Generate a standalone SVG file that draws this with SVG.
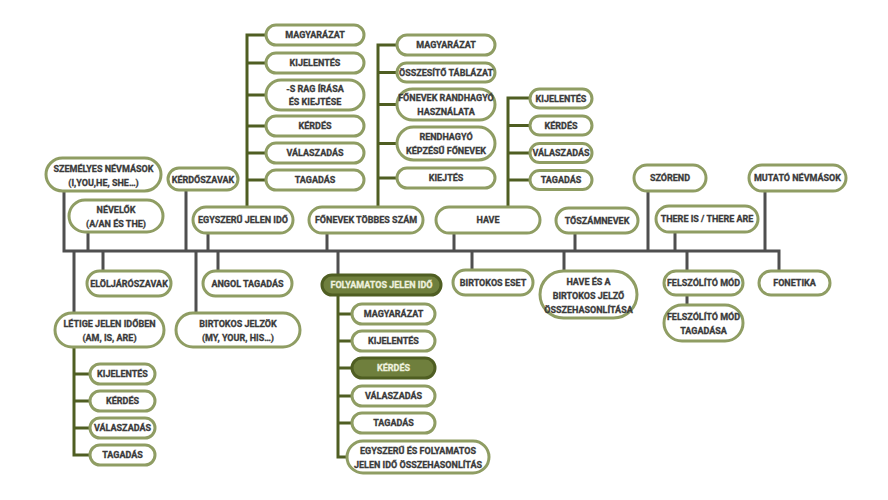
<svg xmlns="http://www.w3.org/2000/svg" width="888" height="500" viewBox="0 0 888 500">
<style>
.n rect{fill:#fff;stroke:#8f9d63;stroke-width:3}
.d rect{fill:#6f7f3d;stroke:#4f5e22;stroke-width:3}
text{font-family:Roboto,"Liberation Sans",sans-serif;font-weight:bold;font-size:9px;fill:#3a3a3a;stroke:#3a3a3a;stroke-width:0.3;text-anchor:middle}
.d text{fill:#eef1de;stroke:#eef1de}
.c path{stroke:#4f4f4f;stroke-width:3;fill:none}
.c .g{stroke:#4f5e22}
</style>
<rect width="888" height="500" fill="#fff"/>
<g class="c">
<path d="M64 191V251H779V271M88 232V251M186 190V251M208 233V251M327 233V251M454 233V251M575 233V251M648 191V251M675 232V251M765 191V251M103 251V271M218 251V271M74 251V313M196 251V313M338 251V275M472 251V270M564 251V271M687 251V271M687 295V305"/>
<path class="g" d="M266 35H247V207M247 63H266M247 95H266M247 126H266M247 153H266M247 180H266"/>
<path class="g" d="M397 45H378V207M378 72.5H397M378 104.5H397M378 143.5H397M378 178H397"/>
<path class="g" d="M530 98H508V207M508 125.5H530M508 153H530M508 180H530"/>
<path class="g" d="M74 347V455H90M74 374H90M74 401H90M74 428H90"/>
<path class="g" d="M338 295V457H347M338 314H352M338 341H352M338 368H352M338 396H352M338 423H352"/>
</g>
<g id="szemelyes" class="n"><rect x="46" y="158" width="115" height="33" rx="16.5"/><text x="103.5" y="171.5">SZEMÉLYES NÉVMÁSOK</text><text x="103.5" y="185.5">(I,YOU,HE, SHE…)</text></g>
<g id="kerdoszavak" class="n"><rect x="168" y="168" width="70" height="22" rx="11"/><text x="203" y="182.5">KÉRDŐSZAVAK</text></g>
<g id="nevelok" class="n"><rect x="69" y="200" width="94" height="32" rx="16"/><text x="116" y="213">NÉVELŐK</text><text x="116" y="226.5">(A/AN ÉS THE)</text></g>
<g id="egyszeru" class="n"><rect x="193" y="207" width="100" height="26" rx="13"/><text x="243" y="223.3">EGYSZERŰ JELEN IDŐ</text></g>
<g id="fonevek" class="n"><rect x="309" y="207" width="114" height="26" rx="13"/><text x="366" y="223.3">FŐNEVEK TÖBBES SZÁM</text></g>
<g id="have" class="n"><rect x="436" y="207" width="104" height="26" rx="13"/><text x="488" y="223.3">HAVE</text></g>
<g id="toszamnevek" class="n"><rect x="556" y="208" width="82" height="25" rx="12.5"/><text x="597" y="223.8">TŐSZÁMNEVEK</text></g>
<g id="there" class="n"><rect x="656" y="206" width="102" height="26" rx="13"/><text x="707" y="222.3">THERE IS / THERE ARE</text></g>
<g id="szorend" class="n"><rect x="634" y="165" width="72" height="26" rx="13"/><text x="670" y="181.3">SZÓREND</text></g>
<g id="mutato" class="n"><rect x="749" y="165" width="97" height="26" rx="13"/><text x="797.5" y="181.3">MUTATÓ NÉVMÁSOK</text></g>
<g id="e1" class="n"><rect x="266" y="25" width="98" height="20" rx="10"/><text x="315" y="38.3">MAGYARÁZAT</text></g>
<g id="e2" class="n"><rect x="266" y="53" width="98" height="20" rx="10"/><text x="315" y="66.3">KIJELENTÉS</text></g>
<g id="e3" class="n"><rect x="266" y="80" width="98" height="30" rx="15"/><text x="315" y="91.5">-S RAG ÍRÁSA</text><text x="315" y="105">ÉS KIEJTÉSE</text></g>
<g id="e4" class="n"><rect x="266" y="116" width="98" height="20" rx="10"/><text x="315" y="129.3">KÉRDÉS</text></g>
<g id="e5" class="n"><rect x="266" y="143" width="98" height="20" rx="10"/><text x="315" y="156.3">VÁLASZADÁS</text></g>
<g id="e6" class="n"><rect x="266" y="170" width="98" height="20" rx="10"/><text x="315" y="183.3">TAGADÁS</text></g>
<g id="f1" class="n"><rect x="397" y="35" width="98" height="20" rx="10"/><text x="446" y="48.3">MAGYARÁZAT</text></g>
<g id="f2" class="n"><rect x="397" y="63" width="98" height="19" rx="9.5"/><text x="446" y="75.8">ÖSSZESÍTŐ TÁBLÁZAT</text></g>
<g id="f3" class="n"><rect x="397" y="89" width="98" height="31" rx="15.5"/><text x="446" y="101">FŐNEVEK RANDHAGYÓ</text><text x="446" y="115">HASZNÁLATA</text></g>
<g id="f4" class="n"><rect x="397" y="127" width="98" height="33" rx="16.5"/><text x="446" y="139.5">RENDHAGYÓ</text><text x="446" y="153.5">KÉPZÉSŰ FŐNEVEK</text></g>
<g id="f5" class="n"><rect x="397" y="168" width="98" height="20" rx="10"/><text x="446" y="181.3">KIEJTÉS</text></g>
<g id="h1" class="n"><rect x="530" y="89" width="62" height="19" rx="9.5"/><text x="561" y="101.8">KIJELENTÉS</text></g>
<g id="h2" class="n"><rect x="530" y="116" width="62" height="19" rx="9.5"/><text x="561" y="128.8">KÉRDÉS</text></g>
<g id="h3" class="n"><rect x="530" y="143.5" width="62" height="19" rx="9.5"/><text x="561" y="156.3">VÁLASZADÁS</text></g>
<g id="h4" class="n"><rect x="530" y="170.5" width="62" height="19" rx="9.5"/><text x="561" y="183.3">TAGADÁS</text></g>
<g id="eloljaro" class="n"><rect x="87" y="271" width="84" height="25" rx="12.5"/><text x="129" y="286.8">ELÖLJÁRÓSZAVAK</text></g>
<g id="angol" class="n"><rect x="203" y="271" width="89" height="25" rx="12.5"/><text x="247.5" y="286.8">ANGOL TAGADÁS</text></g>
<g id="letige" class="n"><rect x="55" y="313" width="109" height="34" rx="17"/><text x="109.5" y="326.5">LÉTIGE JELEN IDŐBEN</text><text x="109.5" y="340.5">(AM, IS, ARE)</text></g>
<g id="birtokosjelzok" class="n"><rect x="176" y="313" width="124" height="34" rx="17"/><text x="238" y="326.5">BIRTOKOS JELZÖK</text><text x="238" y="340.5">(MY, YOUR, HIS…)</text></g>
<g id="l1" class="n"><rect x="90" y="364" width="65" height="20" rx="10"/><text x="122.5" y="377.3">KIJELENTÉS</text></g>
<g id="l2" class="n"><rect x="90" y="391" width="65" height="20" rx="10"/><text x="122.5" y="404.3">KÉRDÉS</text></g>
<g id="l3" class="n"><rect x="90" y="418" width="65" height="20" rx="10"/><text x="122.5" y="431.3">VÁLASZADÁS</text></g>
<g id="l4" class="n"><rect x="90" y="445" width="65" height="20" rx="10"/><text x="122.5" y="458.3">TAGADÁS</text></g>
<g id="folyamatos" class="d"><rect x="322" y="275" width="119" height="20" rx="10"/><text x="381.5" y="288.3">FOLYAMATOS JELEN IDŐ</text></g>
<g id="p1" class="n"><rect x="352" y="304" width="83" height="20" rx="10"/><text x="393.5" y="317.3">MAGYARÁZAT</text></g>
<g id="p2" class="n"><rect x="352" y="331" width="83" height="20" rx="10"/><text x="393.5" y="344.3">KIJELENTÉS</text></g>
<g id="p3" class="d"><rect x="352" y="358" width="83" height="20" rx="10"/><text x="393.5" y="371.3">KÉRDÉS</text></g>
<g id="p4" class="n"><rect x="352" y="386" width="83" height="20" rx="10"/><text x="393.5" y="399.3">VÁLASZADÁS</text></g>
<g id="p5" class="n"><rect x="352" y="413" width="83" height="20" rx="10"/><text x="393.5" y="426.3">TAGADÁS</text></g>
<g id="p6" class="n"><rect x="347" y="441" width="142" height="32" rx="16"/><text x="418" y="453.5">EGYSZERŰ ÉS FOLYAMATOS</text><text x="418" y="467.5">JELEN IDŐ ÖSSZEHASONLÍTÁS</text></g>
<g id="birtokoseset" class="n"><rect x="453" y="270" width="80" height="25" rx="12.5"/><text x="493" y="285.8">BIRTOKOS ESET</text></g>
<g id="havees" class="n"><rect x="540" y="271" width="97" height="47" rx="23.5"/><text x="588.5" y="284.5">HAVE ÉS A</text><text x="588.5" y="298.5">BIRTOKOS JELZŐ</text><text x="588.5" y="312.5">ÖSSZEHASONLÍTÁSA</text></g>
<g id="felszolito" class="n"><rect x="664" y="271" width="79" height="24" rx="12"/><text x="703.5" y="286.3">FELSZÓLÍTÓ MÓD</text></g>
<g id="felszolitotag" class="n"><rect x="664" y="305" width="79" height="36" rx="18"/><text x="703.5" y="319.5">FELSZÓLÍTÓ MÓD</text><text x="703.5" y="333.5">TAGADÁSA</text></g>
<g id="fonetika" class="n"><rect x="759" y="271" width="71" height="24" rx="12"/><text x="794.5" y="286.3">FONETIKA</text></g>
</svg>
